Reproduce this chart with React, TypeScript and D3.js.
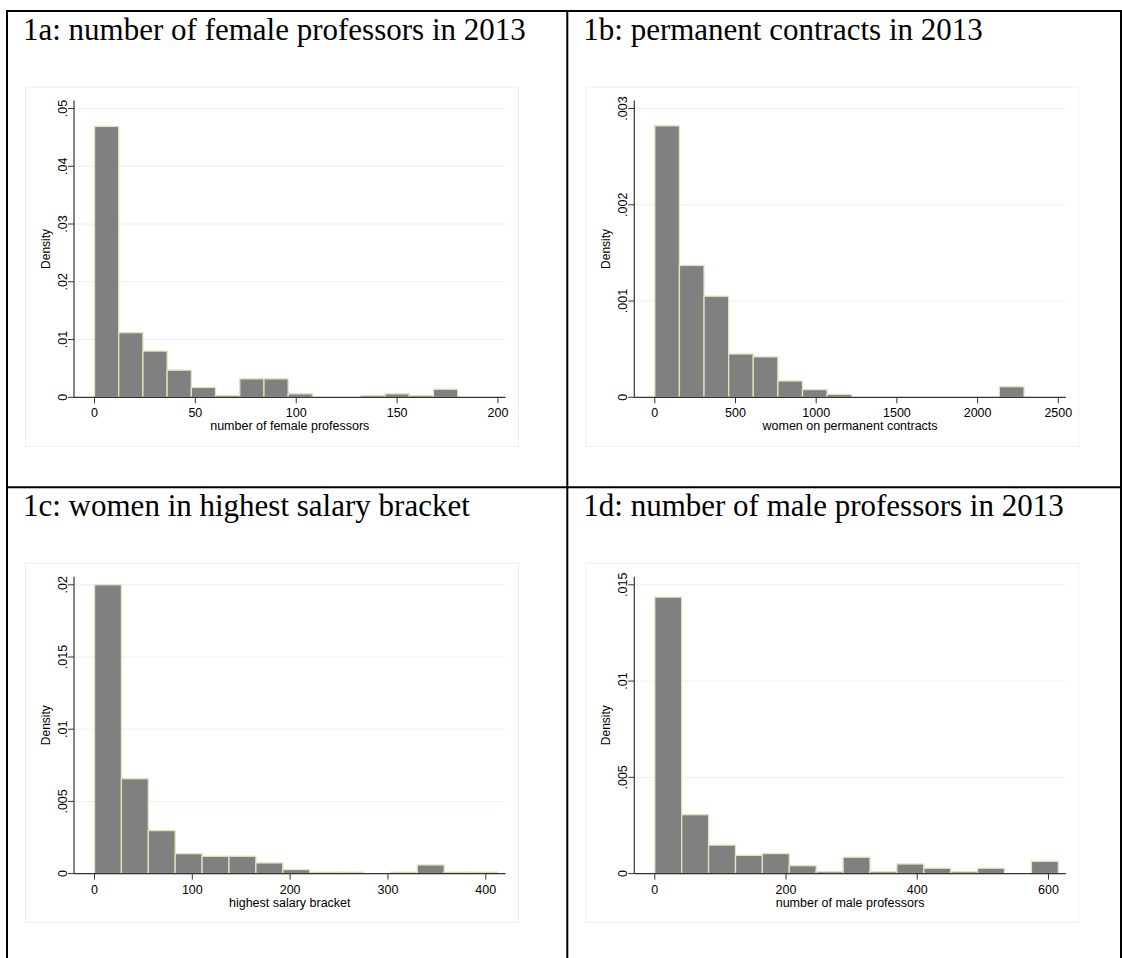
import React from 'react';
import * as d3 from 'd3';

// density per bin, bins start at 0
const femaleBinWidth = 12;
const femaleDensity = [0.0469, 0.0112, 0.008, 0.0047, 0.0017, 0.0003, 0.0032, 0.0032, 0.0006, 0, 0, 0.0003, 0.0006, 0.0003, 0.0014];
const femaleXTicks = [0, 50, 100, 150, 200];
const femaleYTicks = [0, 0.01, 0.02, 0.03, 0.04, 0.05];

const permanentBinWidth = 152.5;
const permanentDensity = [0.00282, 0.00137, 0.00105, 0.00045, 0.00042, 0.00017, 0.00008, 0.00003, 0, 0, 0, 0, 0, 0, 0.00011];
const permanentXTicks = [0, 500, 1000, 1500, 2000, 2500];
const permanentYTicks = [0, 0.001, 0.002, 0.003];

const salaryBinWidth = 27.5;
const salaryDensity = [0.02, 0.00657, 0.00298, 0.00138, 0.0012, 0.0012, 0.00074, 0.00028, 0.0001, 0.0001, 0, 0.0001, 0.0006, 0.0001, 0.0001];
const salaryXTicks = [0, 100, 200, 300, 400];
const salaryYTicks = [0, 0.005, 0.01, 0.015, 0.02];

const maleBinWidth = 41;
const maleDensity = [0.01436, 0.00306, 0.00148, 0.00095, 0.00104, 0.00041, 0.0001, 0.00085, 0.0001, 0.0005, 0.00028, 0.0001, 0.00028, 0, 0.00064];
const maleXTicks = [0, 200, 400, 600];
const maleYTicks = [0, 0.005, 0.01, 0.015];

const panelTitles = [
  '1a: number of female professors in 2013',
  '1b: permanent contracts in 2013',
  '1c: women in highest salary bracket',
  '1d: number of male professors in 2013',
];
const xTitles = [
  'number of female professors',
  'women on permanent contracts',
  'highest salary bracket',
  'number of male professors',
];

const SANS = '"Liberation Sans", Arial, Helvetica, sans-serif';
const SERIF = '"Liberation Serif", "Times New Roman", serif';

const BAR_FILL = '#808080';
const BAR_STROKE = '#E6E2BA';
const GRID = '#E8F0F2';
const AXIS = '#333333';

interface PanelProps {
  cx: number;
  cy: number;
  title: string;
  xTitle: string;
  binWidth: number;
  density: number[];
  xTicks: number[];
  yTicks: number[];
}

const fmtY = (v: number) => (v === 0 ? '0' : String(+v.toFixed(4)).replace(/^0/, ''));

const Panel: React.FC<PanelProps> = ({ cx, cy, title, xTitle, binWidth, density, xTicks, yTicks }) => {
  const left = cx + 67;
  const right = cx + 498.5;
  const top = cy + 89.5;
  const bottom = cy + 386.3;

  const xMax = Math.max(d3.max(xTicks) || 0, density.length * binWidth);
  const x = d3.scaleLinear().domain([0, xMax]).range([left + 20.5, right - 7.5]);
  const y = d3.scaleLinear().domain([0, d3.max(yTicks) || 1]).range([bottom, top + 8]);

  const bins = density.map((d, i) => ({ x0: i * binWidth, x1: (i + 1) * binWidth, d }));

  return (
    <g>
      <text x={cx + 16} y={cy + 29} fontFamily={SERIF} fontSize={31} fill="#000">{title}</text>
      {/* graph region */}
      <rect x={left - 48.5} y={top - 13.5} width={right + 13 - (left - 48.5)} height={bottom + 49 - (top - 13.5)}
        fill="#fff" stroke={GRID} strokeWidth={1} />
      {/* grid */}
      {yTicks.filter(t => t > 0).map(t => (
        <line key={'g' + t} x1={left} x2={right} y1={y(t)} y2={y(t)} stroke={GRID} strokeWidth={1} />
      ))}
      {/* bars */}
      {bins.filter(b => b.d > 0).map((b, i) => (
        <rect key={'b' + i} x={x(b.x0)} y={y(b.d)} width={x(b.x1) - x(b.x0)} height={bottom - y(b.d)}
          fill={BAR_FILL} stroke={BAR_STROKE} strokeWidth={1.3} />
      ))}
      {/* axes */}
      <line x1={left} x2={left} y1={top} y2={bottom} stroke={AXIS} strokeWidth={1.2} />
      <line x1={left} x2={right} y1={bottom} y2={bottom} stroke={AXIS} strokeWidth={1.2} />
      {yTicks.map(t => (
        <g key={'y' + t}>
          <line x1={left - 6} x2={left} y1={y(t)} y2={y(t)} stroke={AXIS} strokeWidth={1} />
          <text transform={`translate(${left - 7.3},${y(t)}) rotate(-90)`} textAnchor="middle"
            fontFamily={SANS} fontSize={12.5} fill="#000">{fmtY(t)}</text>
        </g>
      ))}
      {xTicks.map(t => (
        <g key={'x' + t}>
          <line x1={x(t)} x2={x(t)} y1={bottom} y2={bottom + 6} stroke={AXIS} strokeWidth={1} />
          <text x={x(t)} y={bottom + 20} textAnchor="middle" fontFamily={SANS} fontSize={12.5} fill="#000">{t}</text>
        </g>
      ))}
      <text x={(left + right) / 2} y={bottom + 33} textAnchor="middle" fontFamily={SANS} fontSize={12.5} fill="#000">{xTitle}</text>
      <text transform={`translate(${left - 24},${(top + bottom) / 2}) rotate(-90)`} textAnchor="middle"
        fontFamily={SANS} fontSize={12} fill="#000">Density</text>
    </g>
  );
};

export default function App() {
  const W = 1122;
  const H = 958;
  const colX = [7, 567.3];
  const rowY = [11, 487.3];
  return (
    <svg width={W} height={H} style={{ position: 'absolute', left: 0, top: 0, background: '#fff' }}>
      <rect x={0} y={0} width={W} height={H} fill="#fff" />
      <Panel cx={colX[0]} cy={rowY[0]} title={panelTitles[0]} xTitle={xTitles[0]} binWidth={femaleBinWidth}
        density={femaleDensity} xTicks={femaleXTicks} yTicks={femaleYTicks} />
      <Panel cx={colX[1]} cy={rowY[0]} title={panelTitles[1]} xTitle={xTitles[1]} binWidth={permanentBinWidth}
        density={permanentDensity} xTicks={permanentXTicks} yTicks={permanentYTicks} />
      <Panel cx={colX[0]} cy={rowY[1]} title={panelTitles[2]} xTitle={xTitles[2]} binWidth={salaryBinWidth}
        density={salaryDensity} xTicks={salaryXTicks} yTicks={salaryYTicks} />
      <Panel cx={colX[1]} cy={rowY[1]} title={panelTitles[3]} xTitle={xTitles[3]} binWidth={maleBinWidth}
        density={maleDensity} xTicks={maleXTicks} yTicks={maleYTicks} />
      {/* table borders */}
      <g stroke="#000" strokeWidth={2}>
        <line x1={colX[0] - 1} x2={W} y1={rowY[0]} y2={rowY[0]} />
        <line x1={colX[0] - 1} x2={W} y1={rowY[1]} y2={rowY[1]} />
        <line x1={colX[0]} x2={colX[0]} y1={rowY[0] - 1} y2={H} />
        <line x1={colX[1]} x2={colX[1]} y1={rowY[0] - 1} y2={H} />
        <line x1={1121} x2={1121} y1={rowY[0] - 1} y2={H} />
      </g>
    </svg>
  );
}
